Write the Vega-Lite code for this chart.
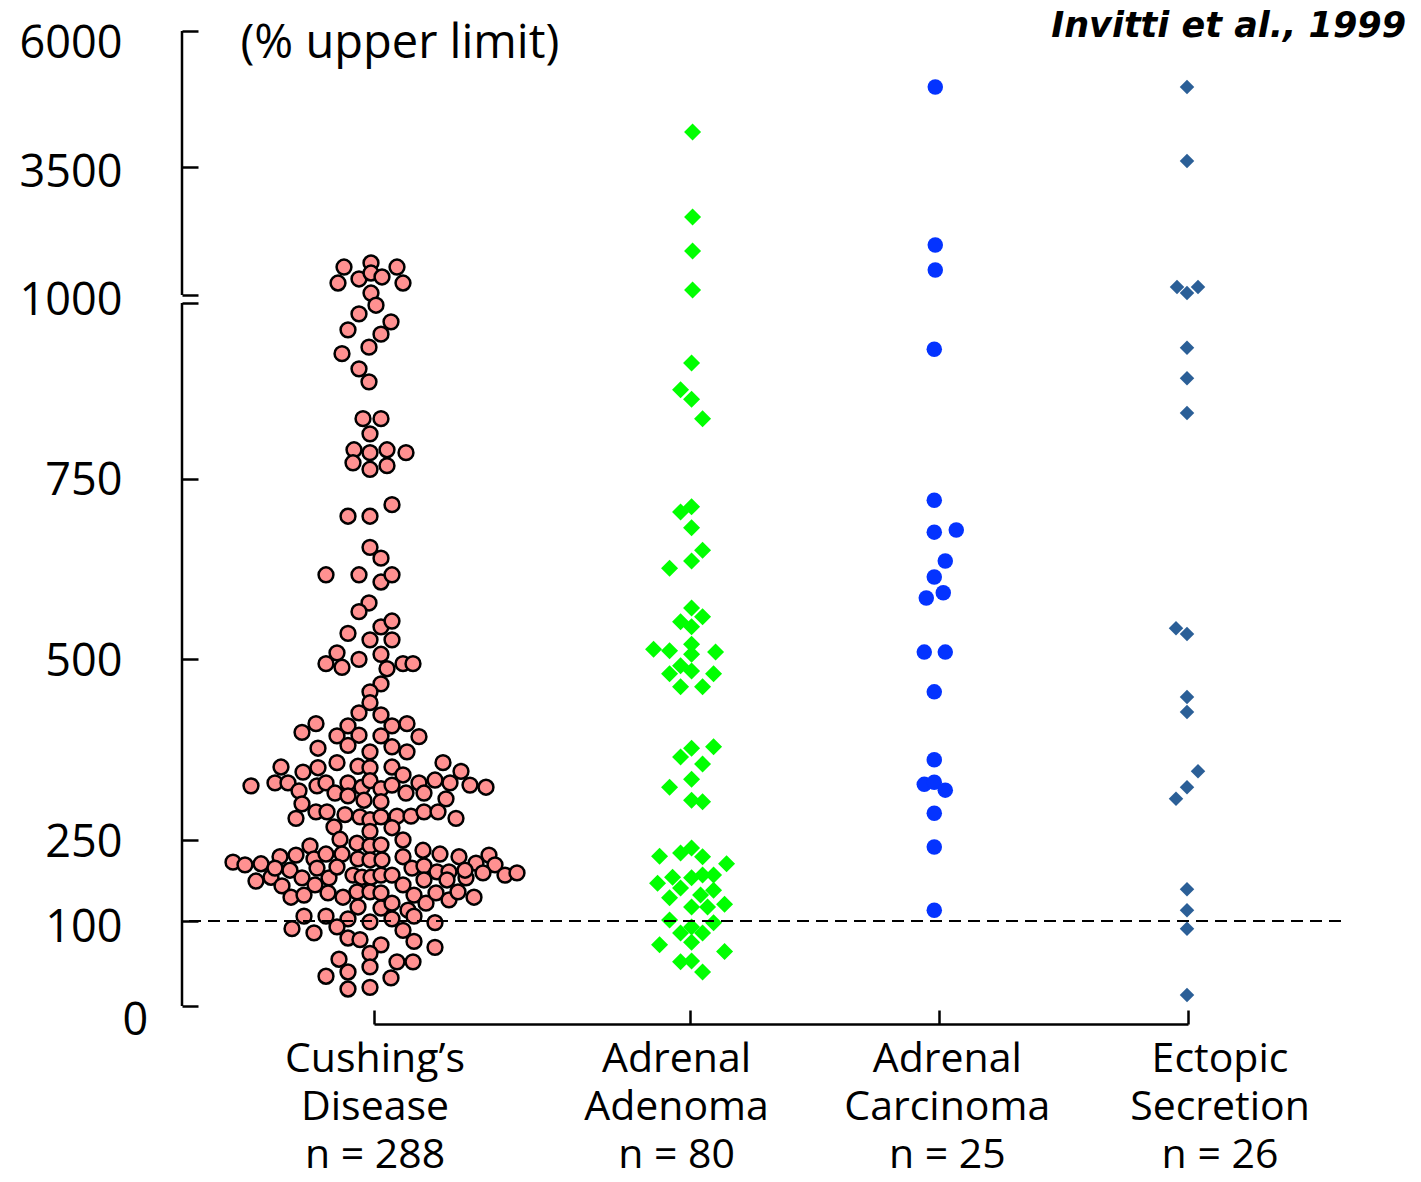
{
  "$schema": "https://vega.github.io/schema/vega-lite/v6.json",
  "width": 1163,
  "height": 1024,
  "autosize": "none",
  "padding": {"left": 182, "top": 0, "right": 76, "bottom": 158},
  "background": "white",
  "config": {"view": {"stroke": null}, "font": "Open Sans"},
  "title": {"text": "Invitti et al., 1999", "anchor": "end", "orient": "top", "offset": -44, "dx": 60, "font": "DejaVu Sans", "fontStyle": "italic", "fontWeight": "bold", "fontSize": 35, "color": "black"},
  "datasets": {
    "pts": [
      {"g":"C","v":1591,"j":-30},{"g":"C","v":1668,"j":-3},{"g":"C","v":1591,"j":23},{"g":"C","v":1286,"j":-36},{"g":"C","v":1363,"j":-15},{"g":"C","v":1477,"j":-3},{"g":"C","v":1401,"j":8},{"g":"C","v":1286,"j":29},{"g":"C","v":1095,"j":-3},{"g":"C","v":990,"j":2},
      {"g":"C","v":978,"j":-15},{"g":"C","v":967,"j":17},{"g":"C","v":956,"j":-26},{"g":"C","v":950,"j":7},{"g":"C","v":932,"j":-5},{"g":"C","v":923,"j":-32},{"g":"C","v":902,"j":-15},{"g":"C","v":884,"j":-5},{"g":"C","v":833,"j":-11},{"g":"C","v":833,"j":7},
      {"g":"C","v":812,"j":-4},{"g":"C","v":790,"j":-20},{"g":"C","v":786,"j":-4},{"g":"C","v":790,"j":13},{"g":"C","v":786,"j":32},{"g":"C","v":772,"j":-21},{"g":"C","v":763,"j":-4},{"g":"C","v":768,"j":13},{"g":"C","v":698,"j":-26},{"g":"C","v":698,"j":-4},
      {"g":"C","v":714,"j":18},{"g":"C","v":655,"j":-4},{"g":"C","v":640,"j":7},{"g":"C","v":617,"j":-48},{"g":"C","v":617,"j":-15},{"g":"C","v":607,"j":7},{"g":"C","v":617,"j":18},{"g":"C","v":578,"j":-5},{"g":"C","v":566,"j":-15},{"g":"C","v":545,"j":7},
      {"g":"C","v":553,"j":18},{"g":"C","v":536,"j":-26},{"g":"C","v":527,"j":-4},{"g":"C","v":527,"j":18},{"g":"C","v":509,"j":-37},{"g":"C","v":494,"j":-48},{"g":"C","v":489,"j":-32},{"g":"C","v":500,"j":-15},{"g":"C","v":507,"j":7},{"g":"C","v":494,"j":29},
      {"g":"C","v":494,"j":39},{"g":"C","v":487,"j":13},{"g":"C","v":466,"j":7},{"g":"C","v":455,"j":-4},{"g":"C","v":440,"j":-4},{"g":"C","v":426,"j":-15},{"g":"C","v":423,"j":7},{"g":"C","v":411,"j":-58},{"g":"C","v":399,"j":-72},{"g":"C","v":408,"j":-26},
      {"g":"C","v":408,"j":18},{"g":"C","v":411,"j":33},{"g":"C","v":394,"j":-37},{"g":"C","v":395,"j":-15},{"g":"C","v":394,"j":7},{"g":"C","v":393,"j":45},{"g":"C","v":377,"j":-56},{"g":"C","v":381,"j":-26},{"g":"C","v":379,"j":18},{"g":"C","v":372,"j":33},
      {"g":"C","v":372,"j":-4},{"g":"C","v":351,"j":-93},{"g":"C","v":344,"j":-71},{"g":"C","v":350,"j":-56},{"g":"C","v":357,"j":-37},{"g":"C","v":352,"j":-16},{"g":"C","v":350,"j":-4},{"g":"C","v":351,"j":18},{"g":"C","v":340,"j":29},{"g":"C","v":357,"j":69},
      {"g":"C","v":345,"j":87},{"g":"C","v":325,"j":-123},{"g":"C","v":329,"j":-99},{"g":"C","v":329,"j":-86},{"g":"C","v":318,"j":-75},{"g":"C","v":325,"j":-57},{"g":"C","v":329,"j":-48},{"g":"C","v":315,"j":-39},{"g":"C","v":329,"j":-26},{"g":"C","v":311,"j":-26},
      {"g":"C","v":323,"j":-12},{"g":"C","v":332,"j":-4},{"g":"C","v":321,"j":7},{"g":"C","v":326,"j":18},{"g":"C","v":315,"j":32},{"g":"C","v":329,"j":45},{"g":"C","v":315,"j":50},{"g":"C","v":333,"j":61},{"g":"C","v":329,"j":76},{"g":"C","v":326,"j":96},
      {"g":"C","v":323,"j":112},{"g":"C","v":307,"j":72},{"g":"C","v":300,"j":-72},{"g":"C","v":305,"j":-10},{"g":"C","v":303,"j":7},{"g":"C","v":280,"j":-78},{"g":"C","v":289,"j":-58},{"g":"C","v":289,"j":-47},{"g":"C","v":285,"j":-29},{"g":"C","v":282,"j":-14},
      {"g":"C","v":278,"j":-4},{"g":"C","v":282,"j":7},{"g":"C","v":283,"j":23},{"g":"C","v":283,"j":37},{"g":"C","v":289,"j":50},{"g":"C","v":289,"j":64},{"g":"C","v":280,"j":82},{"g":"C","v":268,"j":-40},{"g":"C","v":262,"j":-4},{"g":"C","v":267,"j":18},
      {"g":"C","v":251,"j":-34},{"g":"C","v":244,"j":-17},{"g":"C","v":239,"j":-4},{"g":"C","v":241,"j":7},{"g":"C","v":250,"j":29},{"g":"C","v":209,"j":-141},{"g":"C","v":204,"j":-129},{"g":"C","v":206,"j":-113},{"g":"C","v":219,"j":-94},{"g":"C","v":222,"j":-78},
      {"g":"C","v":239,"j":-64},{"g":"C","v":215,"j":-60},{"g":"C","v":224,"j":-48},{"g":"C","v":224,"j":-32},{"g":"C","v":215,"j":-16},{"g":"C","v":213,"j":-4},{"g":"C","v":213,"j":8},{"g":"C","v":219,"j":29},{"g":"C","v":231,"j":49},{"g":"C","v":224,"j":66},
      {"g":"C","v":219,"j":85},{"g":"C","v":207,"j":102},{"g":"C","v":222,"j":115},{"g":"C","v":204,"j":121},{"g":"C","v":185,"j":131},{"g":"C","v":189,"j":143},{"g":"C","v":174,"j":-118},{"g":"C","v":181,"j":-103},{"g":"C","v":198,"j":-99},{"g":"C","v":194,"j":-84},
      {"g":"C","v":180,"j":-72},{"g":"C","v":198,"j":-57},{"g":"C","v":180,"j":-45},{"g":"C","v":200,"j":-37},{"g":"C","v":185,"j":-21},{"g":"C","v":181,"j":-12},{"g":"C","v":181,"j":-3},{"g":"C","v":185,"j":7},{"g":"C","v":185,"j":18},{"g":"C","v":198,"j":38},
      {"g":"C","v":202,"j":50},{"g":"C","v":176,"j":50},{"g":"C","v":191,"j":63},{"g":"C","v":191,"j":75},{"g":"C","v":176,"j":73},{"g":"C","v":180,"j":92},{"g":"C","v":194,"j":91},{"g":"C","v":189,"j":109},{"g":"C","v":165,"j":-92},{"g":"C","v":144,"j":-83},
      {"g":"C","v":148,"j":-70},{"g":"C","v":167,"j":-59},{"g":"C","v":152,"j":-46},{"g":"C","v":144,"j":-31},{"g":"C","v":154,"j":-17},{"g":"C","v":154,"j":-4},{"g":"C","v":152,"j":7},{"g":"C","v":167,"j":29},{"g":"C","v":148,"j":40},{"g":"C","v":133,"j":52},
      {"g":"C","v":152,"j":62},{"g":"C","v":139,"j":75},{"g":"C","v":154,"j":84},{"g":"C","v":144,"j":100},{"g":"C","v":126,"j":-16},{"g":"C","v":124,"j":7},{"g":"C","v":133,"j":18},{"g":"C","v":120,"j":34},{"g":"C","v":109,"j":-70},{"g":"C","v":109,"j":-48},
      {"g":"C","v":104,"j":-26},{"g":"C","v":99,"j":-4},{"g":"C","v":104,"j":18},{"g":"C","v":109,"j":40},{"g":"C","v":98,"j":61},{"g":"C","v":91,"j":-82},{"g":"C","v":86,"j":-60},{"g":"C","v":93,"j":-37},{"g":"C","v":89,"j":29},{"g":"C","v":80,"j":-26},
      {"g":"C","v":78,"j":-14},{"g":"C","v":72,"j":7},{"g":"C","v":76,"j":40},{"g":"C","v":69,"j":61},{"g":"C","v":62,"j":-4},{"g":"C","v":55,"j":-35},{"g":"C","v":52,"j":23},{"g":"C","v":52,"j":39},{"g":"C","v":35,"j":-48},{"g":"C","v":40,"j":-26},
      {"g":"C","v":46,"j":-4},{"g":"C","v":33,"j":17},{"g":"C","v":20,"j":-26},{"g":"C","v":22,"j":-4},
      {"g":"A","v":4143,"j":2},{"g":"A","v":2545,"j":2},{"g":"A","v":1897,"j":2},{"g":"A","v":1153,"j":2},{"g":"A","v":910,"j":1},{"g":"A","v":873,"j":-10},{"g":"A","v":860,"j":1},{"g":"A","v":833,"j":12},{"g":"A","v":704,"j":-10},{"g":"A","v":711,"j":1},
      {"g":"A","v":682,"j":1},{"g":"A","v":651,"j":12},{"g":"A","v":636,"j":1},{"g":"A","v":626,"j":-21},{"g":"A","v":571,"j":1},{"g":"A","v":559,"j":12},{"g":"A","v":552,"j":-10},{"g":"A","v":545,"j":1},{"g":"A","v":521,"j":1},{"g":"A","v":514,"j":-37},
      {"g":"A","v":512,"j":-21},{"g":"A","v":507,"j":1},{"g":"A","v":510,"j":25},{"g":"A","v":491,"j":-10},{"g":"A","v":484,"j":1},{"g":"A","v":480,"j":-21},{"g":"A","v":480,"j":23},{"g":"A","v":462,"j":-10},{"g":"A","v":462,"j":12},{"g":"A","v":377,"j":1},
      {"g":"A","v":379,"j":23},{"g":"A","v":365,"j":-10},{"g":"A","v":355,"j":12},{"g":"A","v":334,"j":1},{"g":"A","v":323,"j":-21},{"g":"A","v":305,"j":1},{"g":"A","v":303,"j":12},{"g":"A","v":220,"j":-31},{"g":"A","v":226,"j":-10},{"g":"A","v":235,"j":1},
      {"g":"A","v":219,"j":12},{"g":"A","v":206,"j":36},{"g":"A","v":170,"j":-33},{"g":"A","v":181,"j":-18},{"g":"A","v":180,"j":1},{"g":"A","v":185,"j":12},{"g":"A","v":185,"j":23},{"g":"A","v":161,"j":-10},{"g":"A","v":157,"j":23},{"g":"A","v":143,"j":-21},
      {"g":"A","v":148,"j":10},{"g":"A","v":126,"j":1},{"g":"A","v":126,"j":17},{"g":"A","v":131,"j":34},{"g":"A","v":102,"j":-21},{"g":"A","v":86,"j":-10},{"g":"A","v":93,"j":1},{"g":"A","v":86,"j":12},{"g":"A","v":98,"j":23},{"g":"A","v":75,"j":1},
      {"g":"A","v":72,"j":-31},{"g":"A","v":64,"j":34},{"g":"A","v":52,"j":-10},{"g":"A","v":53,"j":1},{"g":"A","v":40,"j":12},
      {"g":"K","v":4970,"j":-4},{"g":"K","v":2011,"j":-4},{"g":"K","v":1534,"j":-4},{"g":"K","v":929,"j":-5},{"g":"K","v":720,"j":-5},{"g":"K","v":676,"j":-5},{"g":"K","v":679,"j":17},{"g":"K","v":636,"j":6},{"g":"K","v":614,"j":-5},{"g":"K","v":592,"j":4},
      {"g":"K","v":585,"j":-13},{"g":"K","v":510,"j":-15},{"g":"K","v":510,"j":6},{"g":"K","v":455,"j":-5},{"g":"K","v":361,"j":-5},{"g":"K","v":327,"j":-15},{"g":"K","v":330,"j":-5},{"g":"K","v":319,"j":6},{"g":"K","v":287,"j":-5},{"g":"K","v":237,"j":-5},
      {"g":"K","v":120,"j":-5},
      {"g":"E","v":4970,"j":-1},{"g":"E","v":3610,"j":-1},{"g":"E","v":1210,"j":-11},{"g":"E","v":1095,"j":-1},{"g":"E","v":1210,"j":10},{"g":"E","v":931,"j":-1},{"g":"E","v":889,"j":-1},{"g":"E","v":841,"j":-1},{"g":"E","v":543,"j":-12},{"g":"E","v":535,"j":-1},
      {"g":"E","v":448,"j":-1},{"g":"E","v":427,"j":-1},{"g":"E","v":345,"j":10},{"g":"E","v":323,"j":-1},{"g":"E","v":307,"j":-12},{"g":"E","v":159,"j":-1},{"g":"E","v":120,"j":-1},{"g":"E","v":91,"j":-1},{"g":"E","v":13,"j":-1}
    ]
  },
  "layer": [
    {
      "data": {"name": "pts"},
      "encoding": {
        "x": {
          "field": "g", "type": "nominal",
          "scale": {
            "type": "band",
            "domain": ["C","c1","c2","c3","c4","c5","c6","c7","c8","c9","c10","c11","c12","c13","A","a1","a2","a3","a4","a5","a6","a7","a8","a9","a10","K","k1","k2","k3","k4","k5","k6","k7","k8","k9","k10","E"],
            "range": [192, 1006], "paddingInner": 1, "paddingOuter": 0
          },
          "axis": {
            "values": ["C", "A", "K", "E"], "title": null, "grid": false,
            "domainColor": "black", "domainWidth": 2.5, "tickColor": "black", "tickWidth": 2.5, "tickSize": -14,
            "labelFont": "Open Sans", "labelFontSize": 41, "labelColor": "black", "labelPadding": 29,
            "labelLineHeight": 48, "labelBaseline": "top", "labelAlign": "center", "labelLimit": 0, "labelAngle": 0,
            "labelFlush": false, "labelOverlap": false, "labelBound": false,
            "labelExpr": "datum.value == 'C' ? ['Cushing’s', 'Disease', 'n = 288'] : datum.value == 'A' ? ['Adrenal', 'Adenoma', 'n = 80'] : datum.value == 'K' ? ['Adrenal', 'Carcinoma', 'n = 25'] : ['Ectopic', 'Secretion', 'n = 26']",
            "labelOffset": {"condition": [{"test": "datum.value == 'A'", "value": -14}, {"test": "datum.value == 'K'", "value": 8}, {"test": "datum.value == 'E'", "value": 32}], "value": 1}
          }
        },
        "xOffset": {"field": "j", "type": "quantitative", "scale": {"domain": [-200, 200], "range": [-200, 200], "nice": false, "zero": false}},
        "y": {
          "field": "v", "type": "quantitative",
          "scale": {"domain": [0, 100, 250, 1000, 3500, 6000], "range": [1006, 921, 840, 298, 167, 31], "nice": false, "zero": false},
          "axis": {
            "values": [0, 100, 250, 500, 750, 993, 1000, 1058, 3500, 6000],
            "domain": false, "grid": false,
            "tickColor": "black", "tickWidth": 2.5, "tickSize": -16,
            "tickOpacity": {"condition": {"test": "datum.value == 1000", "value": 0}, "value": 1},
            "labelExpr": "datum.value == 993 || datum.value == 1058 ? '' : '' + datum.value",
            "labelFont": "Open Sans", "labelFontSize": 45, "labelColor": "black", "labelPadding": 76,
            "labelAlign": {"condition": {"test": "datum.value == 0", "value": "left"}, "value": "right"},
            "labelOffset": {"condition": [{"test": "datum.value == 6000", "value": 12}, {"test": "datum.value == 0", "value": 14}, {"test": "datum.value == 100", "value": 6}, {"test": "datum.value == 3500", "value": 5}], "value": 2},
            "labelOverlap": false, "labelFlush": false, "labelBound": false,
            "title": "(% upper limit)", "titleAngle": 0, "titleX": 58, "titleY": 57,
            "titleAlign": "left", "titleBaseline": "alphabetic", "titleFont": "Open Sans", "titleFontSize": 47, "titleFontWeight": "normal", "titleColor": "black"
          }
        }
      },
      "layer": [
        {"transform": [{"filter": "datum.g == 'C'"}], "mark": {"type": "point", "shape": "circle", "filled": true, "fill": "#FF9191", "stroke": "black", "strokeWidth": 2.5, "size": 220, "opacity": 1}},
        {"transform": [{"filter": "datum.g == 'A'"}], "mark": {"type": "point", "shape": "diamond", "filled": true, "fill": "#00FF00", "strokeWidth": 0, "size": 289, "opacity": 1}},
        {"transform": [{"filter": "datum.g == 'K'"}], "mark": {"type": "point", "shape": "circle", "filled": true, "fill": "#0433FF", "strokeWidth": 0, "size": 240, "opacity": 1}},
        {"transform": [{"filter": "datum.g == 'E'"}], "mark": {"type": "point", "shape": "diamond", "filled": true, "fill": "#2B5F97", "strokeWidth": 0, "size": 210, "opacity": 1}}
      ]
    },
    {
      "data": {"values": [{"a": 0, "b": 993}, {"a": 1058, "b": 6000}]},
      "mark": {"type": "rule", "color": "black", "strokeWidth": 2.5},
      "encoding": {
        "x": {"value": 0},
        "y": {"field": "a", "type": "quantitative"},
        "y2": {"field": "b"}
      }
    },
    {
      "data": {"values": [{"ref": 100}]},
      "mark": {"type": "rule", "color": "black", "strokeWidth": 2, "strokeDash": [12, 7], "strokeDashOffset": 15},
      "encoding": {
        "y": {"field": "ref", "type": "quantitative"}
      }
    }
  ]
}
